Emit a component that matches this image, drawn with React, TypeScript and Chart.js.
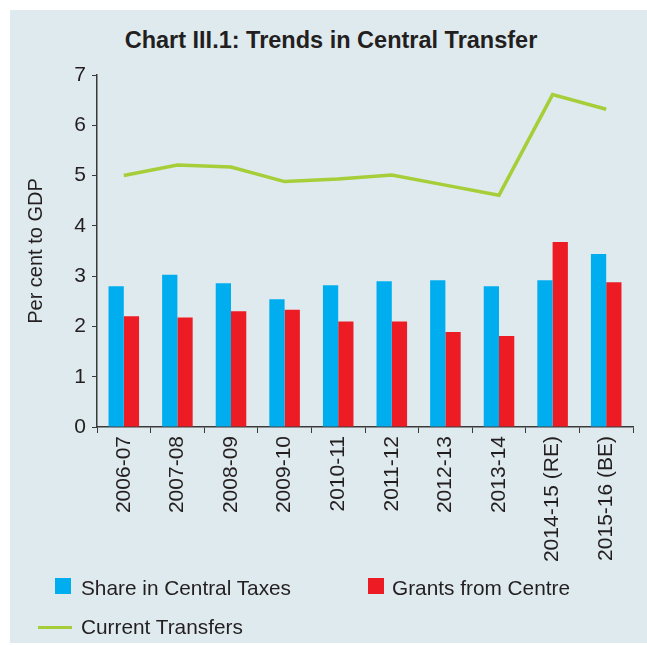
import React, { useEffect, useRef } from "react";
import { Chart, registerables } from "chart.js";

Chart.register(...registerables);

const categories = [
  "2006-07", "2007-08", "2008-09", "2009-10", "2010-11",
  "2011-12", "2012-13", "2013-14", "2014-15 (RE)", "2015-16 (BE)",
];
const shareInCentralTaxes = [2.8, 3.03, 2.86, 2.54, 2.82, 2.9, 2.92, 2.8, 2.92, 3.44];
const grantsFromCentre = [2.2, 2.18, 2.3, 2.33, 2.1, 2.1, 1.89, 1.81, 3.68, 2.88];
const currentTransfers = [5.0, 5.21, 5.17, 4.88, 4.93, 5.01, 4.81, 4.61, 6.61, 6.32];
const yTicks = [0, 1, 2, 3, 4, 5, 6, 7];

const FONT = "'Liberation Sans', Arial, Helvetica, sans-serif";
const TEXT = "#231f20";
const AXIS = "#3a3a3a";
const BLUE = "#00aeef";
const RED = "#ed1c24";
const GREEN = "#a6ce39";
const PANEL = "#dfeaee";

export default function App() {
  const ref = useRef<HTMLCanvasElement>(null);

  useEffect(() => {
    if (!ref.current) return;
    const chart = new Chart(ref.current, {
      type: "bar",
      data: {
        labels: categories,
        datasets: [
          {
            type: "line",
            label: "Current Transfers",
            data: currentTransfers,
            borderColor: GREEN,
            backgroundColor: GREEN,
            borderWidth: 3.5,
            pointRadius: 0,
            tension: 0,
            fill: false,
            order: 0,
          } as any,
          {
            label: "Share in Central Taxes",
            data: shareInCentralTaxes,
            backgroundColor: BLUE,
            categoryPercentage: 0.57,
            barPercentage: 1,
            order: 1,
          },
          {
            label: "Grants from Centre",
            data: grantsFromCentre,
            backgroundColor: RED,
            categoryPercentage: 0.57,
            barPercentage: 1,
            order: 1,
          },
        ],
      },
      options: {
        responsive: false,
        animation: false,
        layout: { padding: { top: 75, right: 14, left: 0, bottom: 0 } },
        plugins: {
          legend: { display: false },
          title: { display: false },
          tooltip: { enabled: false },
        },
        scales: {
          x: {
            grid: {
              display: true,
              drawOnChartArea: false,
              drawTicks: true,
              tickLength: 6,
              color: AXIS,
              offset: true,
            },
            border: { display: true, color: AXIS, width: 1.5 },
            ticks: {
              minRotation: 90,
              maxRotation: 90,
              autoSkip: false,
              padding: 3,
              color: TEXT,
              font: { size: 21, family: FONT },
            },
            afterFit: (s: any) => {
              s.height = 218;
            },
          },
          y: {
            min: 0,
            max: 7,
            afterBuildTicks: (s: any) => {
              s.ticks = yTicks.map((v) => ({ value: v }));
            },
            grid: {
              display: true,
              drawOnChartArea: false,
              drawTicks: true,
              tickLength: 5,
              color: AXIS,
            },
            border: { display: true, color: AXIS, width: 1.5 },
            ticks: {
              padding: 6,
              color: TEXT,
              font: { size: 21, family: FONT },
            },
            title: {
              display: true,
              text: "Per cent to GDP",
              color: TEXT,
              font: { size: 20, family: FONT },
              padding: { top: 24, bottom: 0 },
            },
            afterFit: (s: any) => {
              s.width = 97;
            },
          },
        },
      },
    });
    return () => chart.destroy();
  }, []);

  const legendText: React.CSSProperties = {
    position: "absolute",
    fontFamily: FONT,
    fontSize: 20.8,
    color: TEXT,
    lineHeight: "20px",
    whiteSpace: "nowrap",
  };

  return (
    <div
      style={{
        position: "fixed",
        left: 0,
        top: 0,
        width: 647,
        height: 645,
        background: "#ffffff",
        overflow: "hidden",
      }}
    >
      <div
        style={{
          position: "absolute",
          left: 10,
          top: 10,
          width: 637,
          height: 633,
          background: PANEL,
        }}
      />
      <div
        style={{
          position: "absolute",
          left: 0,
          top: 27,
          width: 662,
          textAlign: "center",
          fontFamily: FONT,
          fontWeight: "bold",
          fontSize: 23.5,
          lineHeight: "26px",
          color: TEXT,
          whiteSpace: "nowrap",
        }}
      >
        Chart III.1: Trends in Central Transfer
      </div>
      <canvas
        ref={ref}
        width={647}
        height={645}
        style={{ position: "absolute", left: 0, top: 0, width: 647, height: 645 }}
      />
      <div style={{ position: "absolute", left: 55, top: 578, width: 16, height: 16, background: BLUE }} />
      <div style={{ ...legendText, left: 81, top: 578 }}>Share in Central Taxes</div>
      <div style={{ position: "absolute", left: 368, top: 578, width: 16, height: 16, background: RED }} />
      <div style={{ ...legendText, left: 392, top: 578 }}>Grants from Centre</div>
      <div style={{ position: "absolute", left: 38, top: 626, width: 34, height: 3, background: GREEN }} />
      <div style={{ ...legendText, left: 81, top: 617 }}>Current Transfers</div>
    </div>
  );
}
